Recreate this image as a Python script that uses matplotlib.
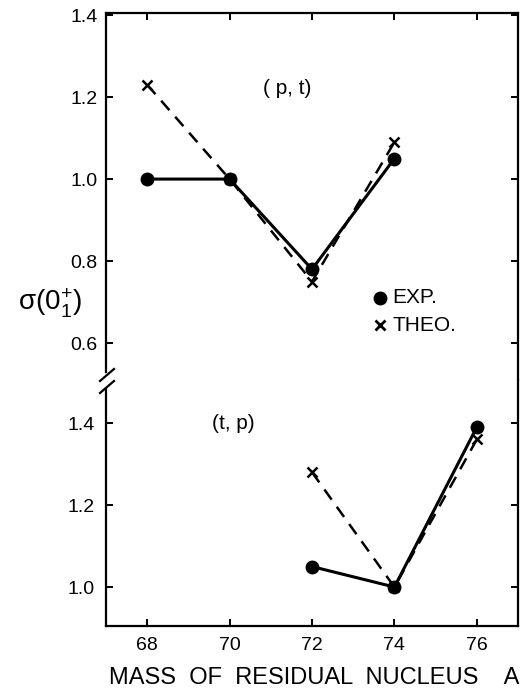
import matplotlib
matplotlib.use("Agg")
import matplotlib.pyplot as plt
from matplotlib.lines import Line2D

plt.rcParams['font.family'] = ['Liberation Sans', 'DejaVu Sans']
plt.rcParams['mathtext.fontset'] = 'custom'
plt.rcParams['mathtext.rm'] = 'Liberation Sans'

# (p,t) panel
pt_mass = [68, 70, 72, 74]
pt_exp = [1.00, 1.00, 0.78, 1.05]
pt_theo = [1.23, 1.00, 0.75, 1.09]

# (t,p) panel
tp_mass = [72, 74, 76]
tp_exp = [1.05, 1.00, 1.39]
tp_theo = [1.28, 1.00, 1.36]

xticks = [68, 70, 72, 74, 76]
top_yticks = [0.6, 0.8, 1.0, 1.2, 1.4]
bot_yticks = [1.0, 1.2, 1.4]

W, H = 531, 692
fig = plt.figure(figsize=(W / 100, H / 100), dpi=100)

def fx(px):
    return px / W

def fy(py):
    return 1 - py / H

L, R = 106, 518
ax1 = fig.add_axes([fx(L), fy(380), fx(R - L), (380 - 13) / H])
ax2 = fig.add_axes([fx(L), fy(626), fx(R - L), (626 - 380) / H])

for ax in (ax1, ax2):
    ax.set_xlim(67, 77)
    ax.set_xticks(xticks)
    for s in ax.spines.values():
        s.set_linewidth(1.6)
    ax.tick_params(direction='in', length=5, width=1.4, labelsize=14,
                   right=True, pad=6)

ax1.set_ylim(0.51, 1.405)
ax1.set_yticks(top_yticks)
ax1.set_yticklabels(['0.6', '0.8', '1.0', '1.2', '1.4'])
ax1.spines['bottom'].set_visible(False)
ax1.spines['left'].set_bounds(0.529, 1.405)
ax1.tick_params(top=True, bottom=False, labelbottom=False)

ax2.set_ylim(0.905, 1.505)
ax2.set_yticks(bot_yticks)
ax2.set_yticklabels(['1.0', '1.2', '1.4'])
ax2.spines['top'].set_visible(False)
ax2.spines['left'].set_bounds(0.905, 1.483)
ax2.tick_params(top=False, pad=8)

# experiment: solid line with dots, theory: dashed line with x
ax1.plot(pt_mass, pt_exp, '-', color='black', lw=2.2, marker='o', ms=9)
ax1.plot(pt_mass, pt_theo, '--', color='black', lw=1.8, dashes=(5, 3.5),
         marker='x', ms=7.5, mew=1.8)
ax2.plot(tp_mass, tp_exp, '-', color='black', lw=2.2, marker='o', ms=9)
ax2.plot(tp_mass, tp_theo, '--', color='black', lw=1.8, dashes=(5, 3.5),
         marker='x', ms=7.5, mew=1.8)

ax1.text(71.4, 1.22, '( p, t)', fontsize=15, ha='center', va='center')
ax2.text(70.1, 1.40, '(t, p)', fontsize=15, ha='center', va='center')

# legend drawn by hand
ax1.plot([73.65], [0.71], 'o', color='black', ms=9)
ax1.text(73.95, 0.71, 'EXP.', fontsize=15, va='center')
ax1.plot([73.65], [0.644], 'x', color='black', ms=7, mew=2)
ax1.text(73.95, 0.644, 'THEO.', fontsize=15, va='center')

# axis break marks
for (x0, y0, x1, y1) in [(100, 381, 114, 369), (100, 393, 114, 381)]:
    fig.add_artist(Line2D([fx(x0), fx(x1)], [fy(y0), fy(y1)],
                          color='black', lw=1.6))

fig.text(fx(50), fy(303), 'σ(0$\\mathrm{^{+}_{1}}$)', fontsize=20,
         ha='center', va='center')
fig.text(fx(314), fy(678), 'MASS  OF  RESIDUAL  NUCLEUS    A',
         fontsize=17, ha='center', va='center')

fig.savefig('out.png', dpi=100)
